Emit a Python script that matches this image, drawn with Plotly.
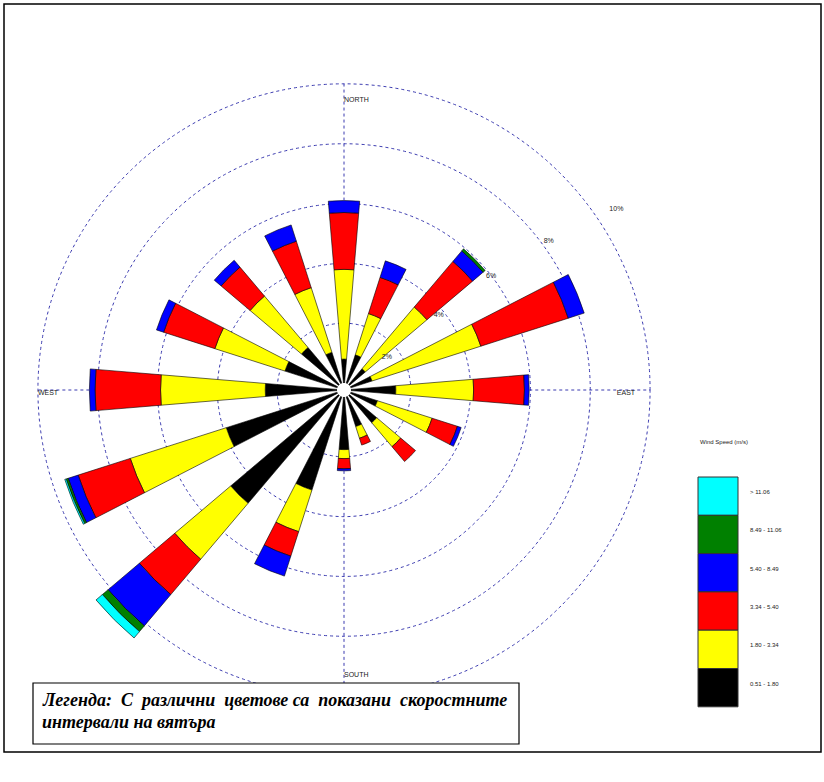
import plotly.graph_objects as go

# Wind rose: frequency (%) of each speed class per direction sector
directions = ["N", "NNE", "NE", "ENE", "E", "ESE", "SE", "SSE",
              "S", "SSW", "SW", "WSW", "W", "WNW", "NW", "NNW"]
bearings = [0, 22.5, 45, 67.5, 90, 112.5, 135, 157.5,
            180, 202.5, 225, 247.5, 270, 292.5, 315, 337.5]

speed_classes = ["0.51 - 1.80", "1.80 - 3.34", "3.34 - 5.40",
                 "5.40 - 8.49", "8.49 - 11.06", "> 11.06"]
class_colors = ["#000000", "#FFFF00", "#FF0000", "#0000FF", "#008000", "#00FFFF"]

freq_051_180 = [0.80, 1.00, 0.70, 0.75, 1.50, 0.94, 1.20, 1.05,
                1.76, 3.28, 4.73, 3.90, 2.40, 1.84, 1.63, 1.09]
freq_180_334 = [3.00, 1.45, 2.70, 3.82, 2.60, 1.92, 1.05, 0.41,
                0.30, 1.46, 2.45, 3.37, 3.50, 2.46, 2.25, 2.27]
freq_334_540 = [1.90, 1.27, 2.00, 3.07, 1.70, 0.89, 0.65, 0.24,
                0.34, 0.86, 1.55, 1.83, 2.19, 1.80, 1.27, 1.63]
freq_540_849 = [0.40, 0.58, 0.46, 0.56, 0.16, 0.13, 0.00, 0.00,
                0.07, 0.70, 1.37, 0.35, 0.19, 0.25, 0.30, 0.57]
freq_849_1106 = [0.00, 0.00, 0.09, 0.00, 0.00, 0.00, 0.00, 0.00,
                 0.00, 0.00, 0.25, 0.07, 0.00, 0.00, 0.00, 0.00]
freq_gt_1106 = [0.00, 0.00, 0.00, 0.00, 0.00, 0.00, 0.00, 0.00,
                0.00, 0.00, 0.28, 0.05, 0.00, 0.00, 0.00, 0.00]

ring_values = [2, 4, 6, 8, 10]
ring_labels = ["2%", "4%", "6%", "8%", "10%"]
cardinal_labels = ["NORTH", "EAST", "SOUTH", "WEST"]
cardinal_bearings = [0, 90, 180, 270]

class_series = [freq_051_180, freq_180_334, freq_334_540,
                freq_540_849, freq_849_1106, freq_gt_1106]

W, H = 824, 782
GRID = "#3b3bb0"
SMALL = dict(family="Liberation Sans, Arial, sans-serif", size=7, color="#222222")


def fx(x):
    return x / W


def fy(y):
    return 1 - y / H


# polar area geometry (page pixels)
cx, cy, R = 344, 390, 330
r_max = 10.8

fig = go.Figure()

# totals per direction, so the cardinal spokes start where the bars end
totals = [sum(vals) for vals in zip(*class_series)]
dir_index = {b: i for i, b in enumerate(bearings)}
for b in cardinal_bearings:
    fig.add_trace(go.Scatterpolar(
        r=[totals[dir_index[b]], 10], theta=[b, b], mode="lines",
        line=dict(color=GRID, width=1, dash="dot"), hoverinfo="skip"))

for name, vals, col in zip(speed_classes, class_series, class_colors):
    fig.add_trace(go.Barpolar(
        r=[v if v > 0 else None for v in vals], theta=bearings, name=name,
        width=[9.5] * len(bearings),
        marker=dict(color=col, line=dict(color="#000000", width=0.6))))

# ring percentage labels, set along a diagonal just off each ring
fig.add_trace(go.Scatterpolar(
    r=[1.57, 3.81, 5.99, 8.23, 10.7], theta=[52.5, 51.6, 52.2, 54, 56.4],
    mode="text", text=ring_labels, textposition="middle center",
    textfont=SMALL, hoverinfo="skip"))

# cardinal direction labels
fig.add_trace(go.Scatterpolar(
    r=[9.46, 9.5, 9.3, 10.0], theta=cardinal_bearings, mode="text",
    text=cardinal_labels,
    textposition=["middle right", "bottom left", "middle right", "bottom right"],
    textfont=SMALL, hoverinfo="skip"))

fig.update_layout(
    width=W, height=H, margin=dict(l=0, r=0, t=0, b=0),
    paper_bgcolor="white", plot_bgcolor="white", showlegend=False,
    polar=dict(
        domain=dict(x=[fx(cx - R), fx(cx + R)], y=[fy(cy + R), fy(cy - R)]),
        hole=7 / R, bgcolor="white", barmode="stack",
        radialaxis=dict(range=[0, r_max], tickvals=ring_values,
                        showticklabels=False, ticks="", showline=False,
                        gridcolor=GRID, griddash="dot", gridwidth=1),
        angularaxis=dict(rotation=90, direction="clockwise",
                         showgrid=False, showticklabels=False, ticks="",
                         showline=False),
    ),
)

shapes = []
annotations = []

# outer frame
shapes.append(dict(type="rect", xref="paper", yref="paper",
                   x0=fx(4), x1=fx(821), y0=fy(752), y1=fy(4),
                   line=dict(color="black", width=1.5)))

# speed class key
annotations.append(dict(xref="paper", yref="paper", x=fx(698), y=fy(442),
                        text="Wind Speed (m/s)", showarrow=False,
                        xanchor="left", yanchor="middle",
                        font=dict(family="Liberation Sans, Arial", size=6,
                                  color="#222222")))
box_top, box_h = 477, 38.3
for k, (name, col) in enumerate(zip(reversed(speed_classes),
                                    reversed(class_colors))):
    y0 = box_top + k * box_h
    shapes.append(dict(type="rect", xref="paper", yref="paper",
                       x0=fx(698), x1=fx(738), y0=fy(y0 + box_h), y1=fy(y0),
                       fillcolor=col, line=dict(color="#333333", width=1)))
    annotations.append(dict(xref="paper", yref="paper", x=fx(748),
                            y=fy(y0 + box_h / 2 - 4), text=name,
                            showarrow=False, xanchor="left", yanchor="middle",
                            font=dict(family="Liberation Sans, Arial", size=6,
                                      color="#222222")))

# caption box
shapes.append(dict(type="rect", xref="paper", yref="paper",
                   x0=fx(33), x1=fx(519), y0=fy(744), y1=fy(683),
                   fillcolor="white", line=dict(color="black", width=1.2),
                   layer="above"))
caption_font = dict(family="Liberation Serif, Times New Roman, serif",
                    size=18, color="black")
annotations.append(dict(xref="paper", yref="paper", x=fx(40), y=fy(700),
                        text="<b><i>Легенда:  С  различни  цветове са  показани  скоростните</i></b>",
                        showarrow=False, xanchor="left", yanchor="middle",
                        font=caption_font))
annotations.append(dict(xref="paper", yref="paper", x=fx(40), y=fy(722),
                        text="<b><i>интервали на вятъра</i></b>",
                        showarrow=False, xanchor="left", yanchor="middle",
                        font=caption_font))

fig.update_layout(shapes=shapes, annotations=annotations)
fig.write_html("out.html")
